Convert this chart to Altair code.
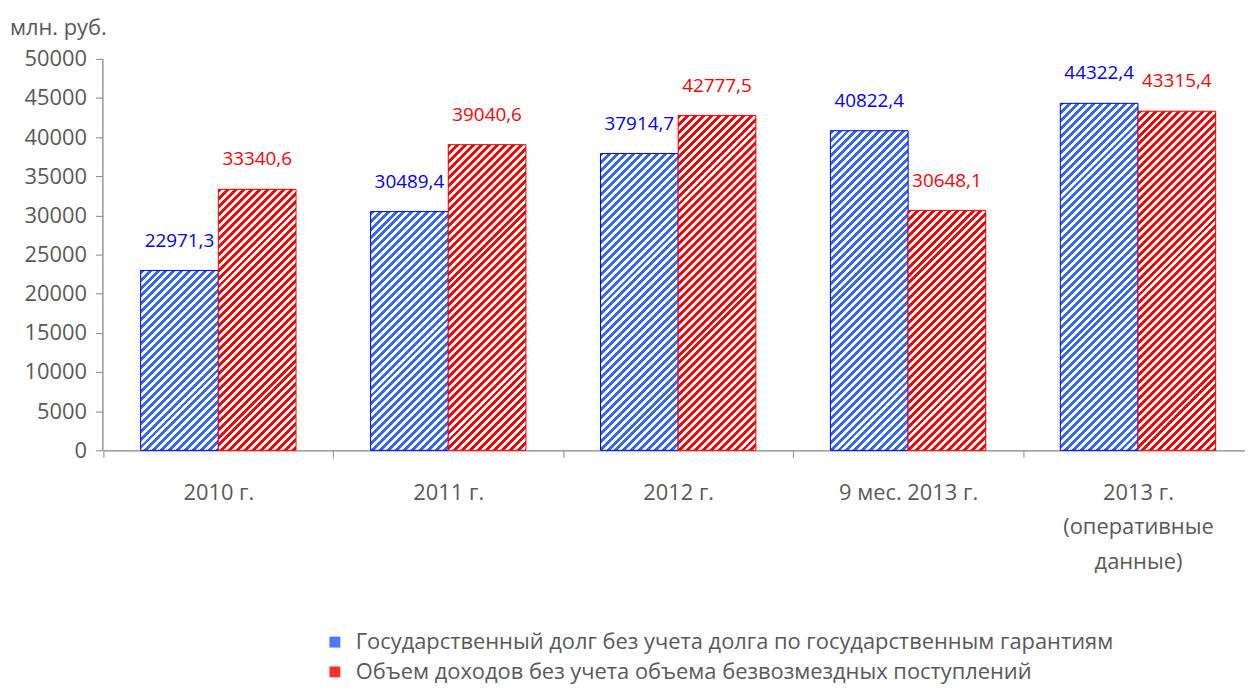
import altair as alt
import pandas as pd

# ---------------- data ----------------
categories = ["2010 г.", "2011 г.", "2012 г.", "9 мес. 2013 г.", "2013 г.|(оперативные|данные)"]
series = [
    "Государственный долг без учета долга по государственным гарантиям",
    "Объем доходов без учета объема безвозмездных поступлений",
]
debt = [22971.3, 30489.4, 37914.7, 40822.4, 44322.4]
income = [33340.6, 39040.6, 42777.5, 30648.1, 43315.4]
y_ticks = [0, 5000, 10000, 15000, 20000, 25000, 30000, 35000, 40000, 45000, 50000]

rows = []
for c, d, i in zip(categories, debt, income):
    for s, v in ((series[0], d), (series[1], i)):
        rows.append({"cat": c, "series": s, "v": v, "label": f"{v:.1f}".replace(".", ",")})
df = pd.DataFrame(rows)

# ---------------- style ----------------
FONT = "Open Sans"
GREY_TXT = "#595959"
GREY_AX = "#868686"
PLOT_W = 1150
RANGE = [1, 1158]
PLOT_H = 394
Y_MAX = 50000
GROUP_PAD = 0.48
stripe = {series[0]: "#3366ff", series[1]: "#ff0000"}
edge = {series[0]: "#0000ff", series[1]: "#ff0000"}
label_col = {series[0]: "#0000ff", series[1]: "#ff0000"}
legend_col = ["#4d79ff", "#ff3030"]

bar_w = (RANGE[1] - RANGE[0]) / len(categories) / (2 + 2 * GROUP_PAD)

GRAD_LEN = 1024  # gradient length in (x+y) pixels
PERIOD = 8


def hatch(color, w, h):
    """Diagonal '/' stripes with an exact pixel period along x+y."""
    k = GRAD_LEN / (w * w + h * h)
    n = int((w + h) // PERIOD) + 2
    step = PERIOD / GRAD_LEN
    stops = []
    for j in range(n):
        a = j * step
        b = a + step / 2
        c = a + step
        stops += [
            {"offset": a, "color": color},
            {"offset": b, "color": color},
            {"offset": b, "color": "#ffffff"},
            {"offset": c, "color": "#ffffff"},
        ]
    return {"gradient": "linear", "x1": 0, "y1": 0, "x2": k * w, "y2": k * h, "stops": stops}


X = alt.X(
    "cat:N",
    sort=categories,
    scale=alt.Scale(domain=categories, range=RANGE, paddingInner=0, paddingOuter=0),
    axis=alt.Axis(
        title=None, labelAngle=0, tickBand="extent", tickSize=7, tickColor=GREY_AX,
        domainColor=GREY_AX, domainWidth=1.3, labelPadding=25, labelFontSize=22,
        labelColor=GREY_TXT, labelFont=FONT, labelExpr="split(datum.label, '|')",
        labelLineHeight=35, labelBaseline="top", grid=False,
    ),
)
XO = alt.XOffset("series:N", sort=series,
                 scale=alt.Scale(domain=series, paddingInner=0, paddingOuter=GROUP_PAD))
Y = alt.Y(
    "v:Q",
    scale=alt.Scale(domain=[0, Y_MAX], nice=False),
    axis=alt.Axis(
        title=None, values=y_ticks, format="d", grid=False, tickSize=7, tickColor=GREY_AX,
        domainColor=GREY_AX, domainWidth=1.3, labelPadding=9, labelFontSize=22,
        labelColor=GREY_TXT, labelFont=FONT,
    ),
)

base = alt.Chart(df).mark_bar(strokeWidth=0).encode(
    x=X, xOffset=XO, y=Y,
    color=alt.Color(
        "series:N", sort=series,
        scale=alt.Scale(domain=series, range=legend_col),
        legend=alt.Legend(
            title=None, orient="none", legendX=223, legendY=576, direction="vertical",
            symbolType="square", symbolSize=121, symbolStrokeWidth=0, symbolOpacity=1,
            labelFontSize=22, labelColor=GREY_TXT, labelFont=FONT, labelLimit=1200,
            rowPadding=8, labelOffset=10, padding=0,
        ),
    ),
)

layers = [base]
for r in rows:
    h = r["v"] / Y_MAX * PLOT_H
    grad = hatch(stripe[r["series"]], bar_w, h)
    layers.append(
        alt.Chart(df)
        .transform_filter((alt.datum.cat == r["cat"]) & (alt.datum.series == r["series"]))
        .mark_bar(fill=grad, stroke=edge[r["series"]], strokeWidth=1)
        .encode(x=X, xOffset=XO, y=Y)
    )

labels = alt.Chart(df).mark_text(dy=-30, fontSize=19, font=FONT).encode(
    x=X, xOffset=XO, y=Y, text="label:N",
    color=alt.condition(alt.datum.series == series[0],
                        alt.value(label_col[series[0]]), alt.value(label_col[series[1]])),
)
layers.append(labels)

chart = (
    alt.layer(*layers)
    .properties(
        width=PLOT_W, height=PLOT_H,
        autosize=alt.AutoSizeParams(type="none"),
        padding={"left": 95, "top": 49, "right": 0, "bottom": 236},
        title=alt.TitleParams(
            "млн. руб.", anchor="start", frame="group", dx=-93, dy=23, fontSize=22, font=FONT,
            fontWeight="normal", color=GREY_TXT, offset=14, baseline="alphabetic",
        ),
    )
    .configure_view(strokeWidth=0)
)

chart.save("out.html", embed_options={"renderer": "svg", "actions": False})
